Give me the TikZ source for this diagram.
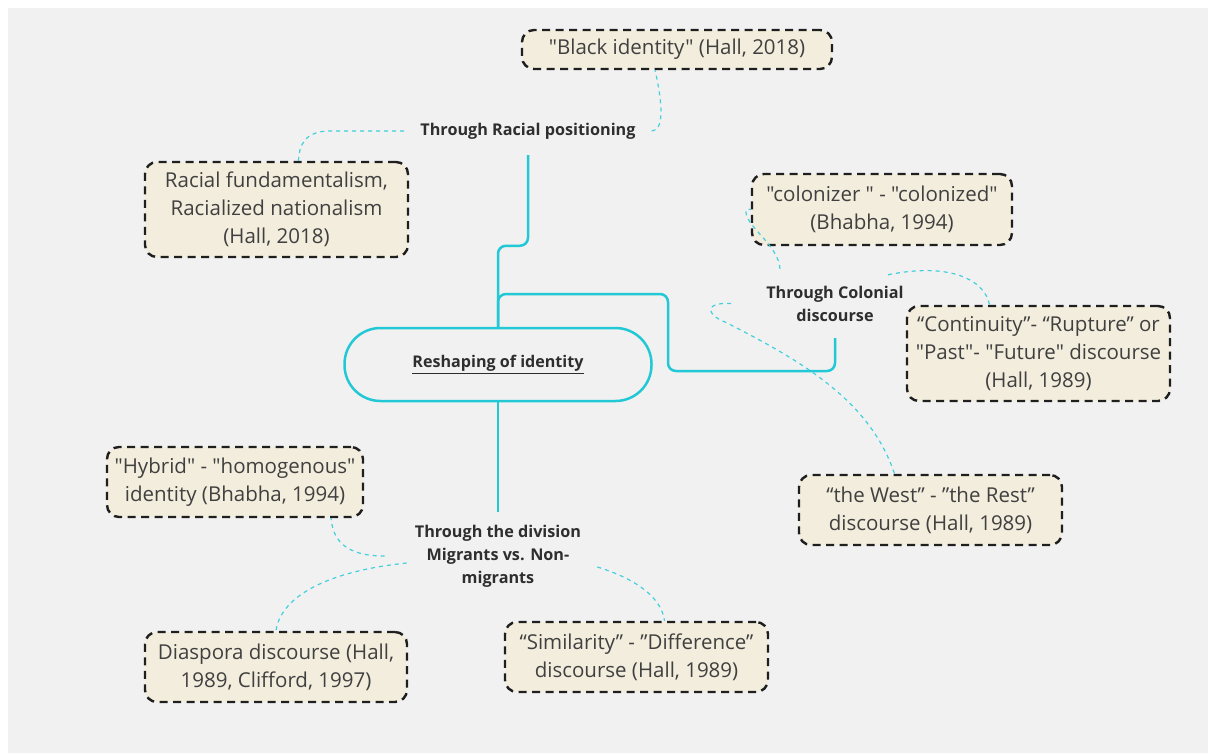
\documentclass[tikz,border=0pt]{standalone}
\usepackage{fontspec}
\setmainfont{Open Sans}[Ligatures=TeXOff]
\definecolor{canvas}{HTML}{F1F1F1}
\definecolor{mmcyan}{HTML}{22C8D6}
\definecolor{notefill}{HTML}{F2EDDC}
\definecolor{ink}{HTML}{404040}
\begin{document}
\begin{tikzpicture}[x=1pt,y=-1pt,
  note/.style={draw=black!88, fill=notefill, line width=2.4pt,
    dash pattern=on 8pt off 5.5pt, rounded corners=12pt, align=center,
    inner sep=0pt, text=ink, font=\fontsize{20.5}{28}\selectfont},
  topic/.style={align=center, font=\bfseries\fontsize{16.2}{23}\selectfont,
    text=black!82, inner xsep=16pt, inner ysep=0pt},
  branch/.style={draw=mmcyan, line width=2.5pt, rounded corners=8pt},
  link/.style={draw=mmcyan!85, line width=1.2pt, dash pattern=on 4pt off 4pt}]

% canvas
\fill[white] (0,0) rectangle (1208,753);
\fill[canvas] (8,8) rectangle (1208,753);

% central topic
\node[draw=mmcyan, line width=2.5pt, rounded corners=36pt,
      minimum width=307pt, minimum height=73pt,
      font=\bfseries\fontsize{16.1}{18}\selectfont, text=black!82]
      (core) at (498,364.5) {\underline{Reshaping of identity}};

% sub-topics
\node[topic, minimum height=48pt] (racial) at (528,131) {Through Racial positioning};
\node[topic, minimum height=69pt] (colonial) at (835,303.5) {Through Colonial\\discourse};
\node[topic, minimum height=88pt] (migr) at (498,556) {Through the division\\Migrants vs. Non-\\migrants};

% notes
\node[note, minimum width=310pt, minimum height=39pt] (black) at (677,49.5)
  {"Black identity" (Hall, 2018)};
\node[note, minimum width=263pt, minimum height=95pt] (racebox) at (276.5,209.5)
  {Racial fundamentalism,\\Racialized nationalism\\(Hall, 2018)};
\node[note, minimum width=260pt, minimum height=71pt] (colonizer) at (882,209.5)
  {"colonizer " - "colonized"\\(Bhabha, 1994)};
\node[note, minimum width=263pt, minimum height=95pt] (continuity) at (1038.5,353.5)
  {“Continuity”- “Rupture” or\\"Past"- "Future" discourse\\(Hall, 1989)};
\node[note, minimum width=263pt, minimum height=70pt] (west) at (930.5,510)
  {“the West” - ”the Rest”\\discourse (Hall, 1989)};
\node[note, minimum width=256pt, minimum height=70pt] (hybrid) at (235,482)
  {"Hybrid" - "homogenous"\\identity (Bhabha, 1994)};
\node[note, minimum width=262pt, minimum height=70pt] (diaspora) at (276,667)
  {Diaspora discourse (Hall,\\1989, Clifford, 1997)};
\node[note, minimum width=263pt, minimum height=70pt] (similarity) at (636.5,657)
  {“Similarity” - ”Difference”\\discourse (Hall, 1989)};

% main branches
\draw[branch] (core.north) -- ++(0,-81) -| (racial.south);
\draw[branch] (core.north) |- (668,294) |- (835,371) -- (colonial.south);
\draw[branch] (core.south) -- (migr.north);

% note links
\draw[link] (racial.east) .. controls (665,131) and (662,100) .. ([xshift=-22pt]black.south);
\draw[link] (racial.west) -- (330,131) .. controls (305,131) and (299,145) .. ([xshift=22pt]racebox.north);
\draw[link] ([xshift=-55pt]colonial.north) .. controls (778,245) and (748,228) .. (746,213)
  .. controls (746,209) .. (colonizer.west);
\draw[link] ([shift={(53,6)}]colonial.north) .. controls (950,262) and (985,280) .. ([xshift=-49pt]continuity.north);
\draw[link] ([xshift=-19pt]colonial.west) .. controls (705,302) and (705,314) .. (725,322)
  .. controls (800,360) and (870,400) .. ([xshift=-36pt]west.north);
\draw[link] ([xshift=-14pt]migr.west) .. controls (345,556) and (333,540) .. ([xshift=96pt]hybrid.south);
\draw[link] ([shift={(8,7)}]migr.west) .. controls (320,572) and (280,600) .. (diaspora.north);
\draw[link] ([shift={(0,11)}]migr.east) .. controls (640,580) and (662,600) .. ([xshift=28pt]similarity.north);
\end{tikzpicture}
\end{document}
